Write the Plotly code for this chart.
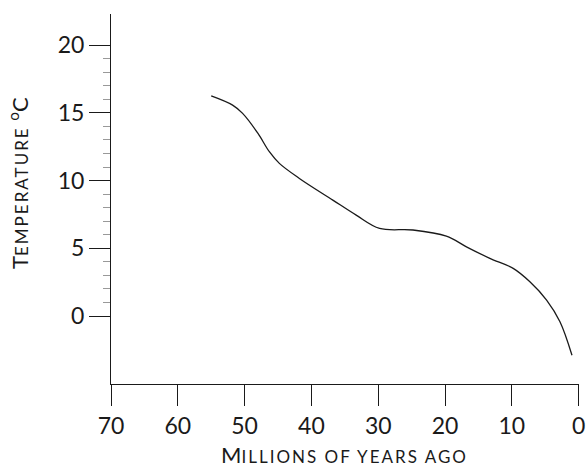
import plotly.graph_objects as go

# Data
years_ago = [55, 51.8, 50.3, 48.0, 46.3, 44.8, 41.8, 36.8, 33.3, 29.8, 24.8, 19.8, 16.8, 13.3, 9.8, 7.3, 4.8, 2.8, 1.0]
temperature = [16.25, 15.57, 14.96, 13.48, 12.13, 11.27, 10.16, 8.56, 7.45, 6.47, 6.35, 5.9, 5.11, 4.26, 3.52, 2.53, 1.18, -0.42, -2.9]

x_ticks = [70, 60, 50, 40, 30, 20, 10, 0]
y_ticks = [0, 5, 10, 15, 20]
y_minor = [v for v in range(1, 20) if v % 5 != 0]

FONT = "Lato, 'Open Sans', sans-serif"
INK = "#1a1a1a"

W, H = 587, 465
PL, PR, PT, PB = 111, 579, 14, 384  # plot area in page pixels

fig = go.Figure()
fig.add_trace(go.Scatter(
    x=years_ago, y=temperature, mode="lines",
    line=dict(color=INK, width=1.3, shape="spline", smoothing=1.0),
    showlegend=False, hoverinfo="skip",
))

fig.update_layout(
    width=W, height=H,
    margin=dict(l=PL, r=W - PR, t=PT, b=H - PB),
    paper_bgcolor="white", plot_bgcolor="white",
    font=dict(family=FONT, color=INK, size=23),
    xaxis=dict(
        range=[70, -0.05], tickvals=x_ticks, ticktext=[str(v) for v in x_ticks],
        showline=True, linecolor=INK, linewidth=1,
        ticks="outside", ticklen=21, tickcolor=INK, tickwidth=1,
        showgrid=False, zeroline=False, automargin=False,
        ticklabeloverflow="allow",
        tickfont=dict(size=23),
    ),
    yaxis=dict(
        range=[-5.02, 22.3], tickvals=y_ticks, ticktext=[str(v) for v in y_ticks],
        showline=True, linecolor=INK, linewidth=1,
        ticks="outside", ticklen=21, tickcolor=INK, tickwidth=1,
        showgrid=False, zeroline=False, automargin=False,
        tickfont=dict(size=23),
        minor=dict(tickvals=y_minor, ticks="outside", ticklen=7, tickcolor="#999999", tickwidth=1, showgrid=False),
    ),
    annotations=[
        dict(text="M<span style='font-size:17px;letter-spacing:2px'>ILLIONS OF YEARS AGO</span>",
             xref="paper", yref="paper", x=(344 - PL) / (PR - PL), y=(PB - 454) / (PB - PT),
             xanchor="center", yanchor="middle", showarrow=False,
             font=dict(size=22, family=FONT, color=INK)),
        dict(text="T<span style='font-size:17px;letter-spacing:2px'>EMPERATURE</span> <sup>o</sup>C",
             xref="paper", yref="paper", x=(18 - PL) / (PR - PL), y=(PB - 183) / (PB - PT),
             xanchor="center", yanchor="middle", showarrow=False, textangle=-90,
             font=dict(size=22, family=FONT, color=INK)),
    ],
)

# Remove the browser's default page margin so the figure fills the window exactly.
fig.write_html(
    "out.html",
    config={"displayModeBar": False},
    post_script="document.body.style.margin='0';document.body.style.overflow='hidden';",
)
